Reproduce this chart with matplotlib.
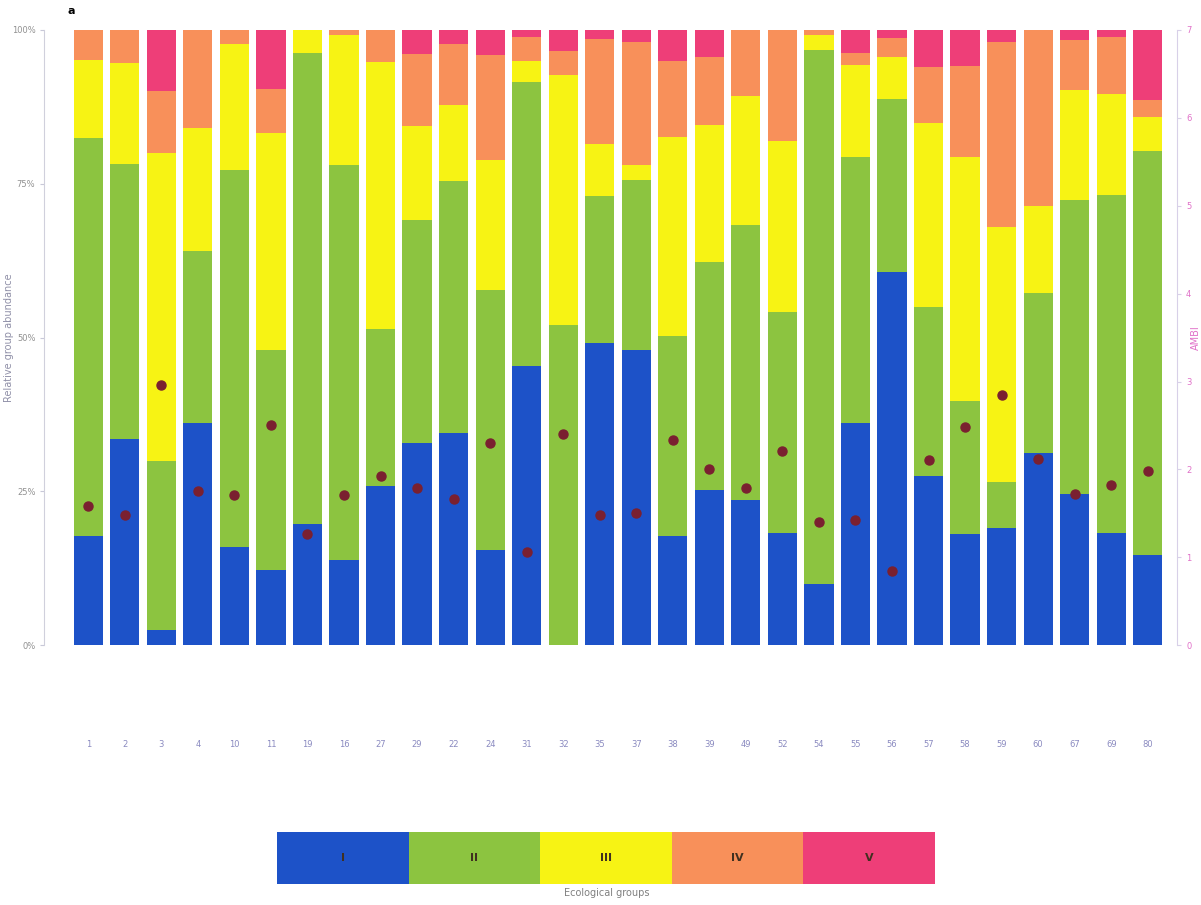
import matplotlib.pyplot as plt
import numpy as np

# sites and share (%) of each ecological group, AMBI value per site
sites = ["1", "2", "3", "4", "10", "11", "19", "16", "27", "29", "22", "24", "31", "32", "35",
         "37", "38", "39", "49", "52", "54", "55", "56", "57", "58", "59", "60", "67", "69", "80"]
group_I = [17.7, 33.5, 2.4, 36.1, 16.0, 12.2, 19.7, 13.8, 25.9, 32.8, 34.5, 15.4, 45.4, 0.0, 49.1,
           48.0, 17.7, 25.2, 23.6, 18.2, 9.9, 36.1, 60.7, 27.5, 18.0, 19.0, 31.2, 24.6, 18.2, 14.6]
group_II = [64.7, 44.7, 27.6, 27.9, 61.2, 35.8, 76.6, 64.2, 25.5, 36.3, 40.9, 42.3, 46.1, 52.0, 23.9,
            27.6, 32.5, 37.1, 44.7, 35.9, 86.8, 43.2, 28.1, 27.5, 21.7, 7.5, 26.0, 47.8, 55.0, 65.7]
group_III = [12.7, 16.4, 50.0, 20.0, 20.5, 35.3, 3.7, 21.2, 43.4, 15.3, 12.4, 21.2, 3.5, 40.7, 8.5,
             2.4, 32.4, 22.3, 21.0, 27.9, 2.5, 15.0, 6.8, 29.9, 39.6, 41.5, 14.2, 17.8, 16.4, 5.6]
group_IV = [4.9, 5.4, 10.0, 16.0, 2.3, 7.1, 0.0, 0.8, 5.2, 11.7, 9.9, 17.0, 3.9, 3.9, 17.0,
            20.0, 12.4, 11.0, 10.7, 18.0, 0.8, 2.0, 3.1, 9.1, 14.8, 30.0, 28.6, 8.2, 9.3, 2.7]
group_V = [0.0, 0.0, 10.0, 0.0, 0.0, 9.6, 0.0, 0.0, 0.0, 3.9, 2.3, 4.1, 1.1, 3.4, 1.5,
           2.0, 5.0, 4.4, 0.0, 0.0, 0.0, 3.7, 1.3, 6.0, 5.9, 2.0, 0.0, 1.6, 1.1, 11.4]
ambi = [1.58, 1.48, 2.96, 1.75, 1.71, 2.50, 1.27, 1.71, 1.92, 1.79, 1.66, 2.30, 1.06, 2.40, 1.48,
        1.51, 2.33, 2.00, 1.79, 2.21, 1.40, 1.42, 0.85, 2.11, 2.48, 2.85, 2.12, 1.72, 1.82, 1.98]

group_names = ["I", "II", "III", "IV", "V"]
colors = ["#1d52c8", "#8cc440", "#f7f314", "#f8905a", "#ee3e78"]

groups = np.array([group_I, group_II, group_III, group_IV, group_V])
groups = groups / groups.sum(axis=0) * 100

fig = plt.figure(figsize=(12.01, 9.05), dpi=100)
ax = fig.add_axes([0.037, 0.287, 0.943, 0.68])
x = np.arange(len(sites))
bottom = np.zeros(len(sites))
for vals, col in zip(groups, colors):
    ax.bar(x, vals, bottom=bottom, width=0.8, color=col, linewidth=0)
    bottom += vals

ax.set_xlim(-1.2, 29.8)
ax.set_ylim(0, 100)
ax.set_yticks([0, 25, 50, 75, 100])
ax.set_yticklabels(["0%", "25%", "50%", "75%", "100%"])
ax.set_xticks(x)
ax.set_xticklabels(sites)
ax.tick_params(axis="x", length=0, pad=68, labelsize=6, labelcolor="#8a8ac0")
ax.tick_params(axis="y", length=3, labelsize=6, labelcolor="#909090", color="#c8c8d8")
ax.set_ylabel("Relative group abundance", fontsize=7, color="#9090a8")
ax.yaxis.set_label_coords(-0.027, 0.5)
for s in ["top", "right", "bottom"]:
    ax.spines[s].set_visible(False)
ax.spines["left"].set_color("#d0d0dc")

ax2 = ax.twinx()
ax2.plot(x, ambi, "o", color="#7a2030", markersize=6.5, zorder=5)
ax2.set_ylim(0, 7)
ax2.set_yticks(range(8))
ax2.tick_params(axis="y", length=3, labelsize=6, labelcolor="#e070c8", color="#d8d0e8")
ax2.set_ylabel("AMBI", fontsize=7, color="#e070c8")
ax2.yaxis.set_label_coords(1.012, 0.5)
for s in ["top", "left", "bottom"]:
    ax2.spines[s].set_visible(False)
ax2.spines["right"].set_color("#d8d0e8")

fig.text(0.056, 0.993, "a", fontsize=8, fontweight="bold", va="top")

# legend strip
lax = fig.add_axes([277 / 1201, 1 - 884 / 905, 658 / 1201, 52 / 905])
for i, (name, col) in enumerate(zip(group_names, colors)):
    lax.barh(0, 1, left=i, height=1, color=col, linewidth=0)
    lax.text(i + 0.5, 0, name, ha="center", va="center", fontsize=8, color="#403020", fontweight="bold")
lax.set_xlim(0, 5)
lax.set_ylim(-0.5, 0.5)
lax.axis("off")
fig.text(0.505, 0.008, "Ecological groups", ha="center", va="bottom", fontsize=7, color="#808080")

fig.savefig("out.png", dpi=100)
